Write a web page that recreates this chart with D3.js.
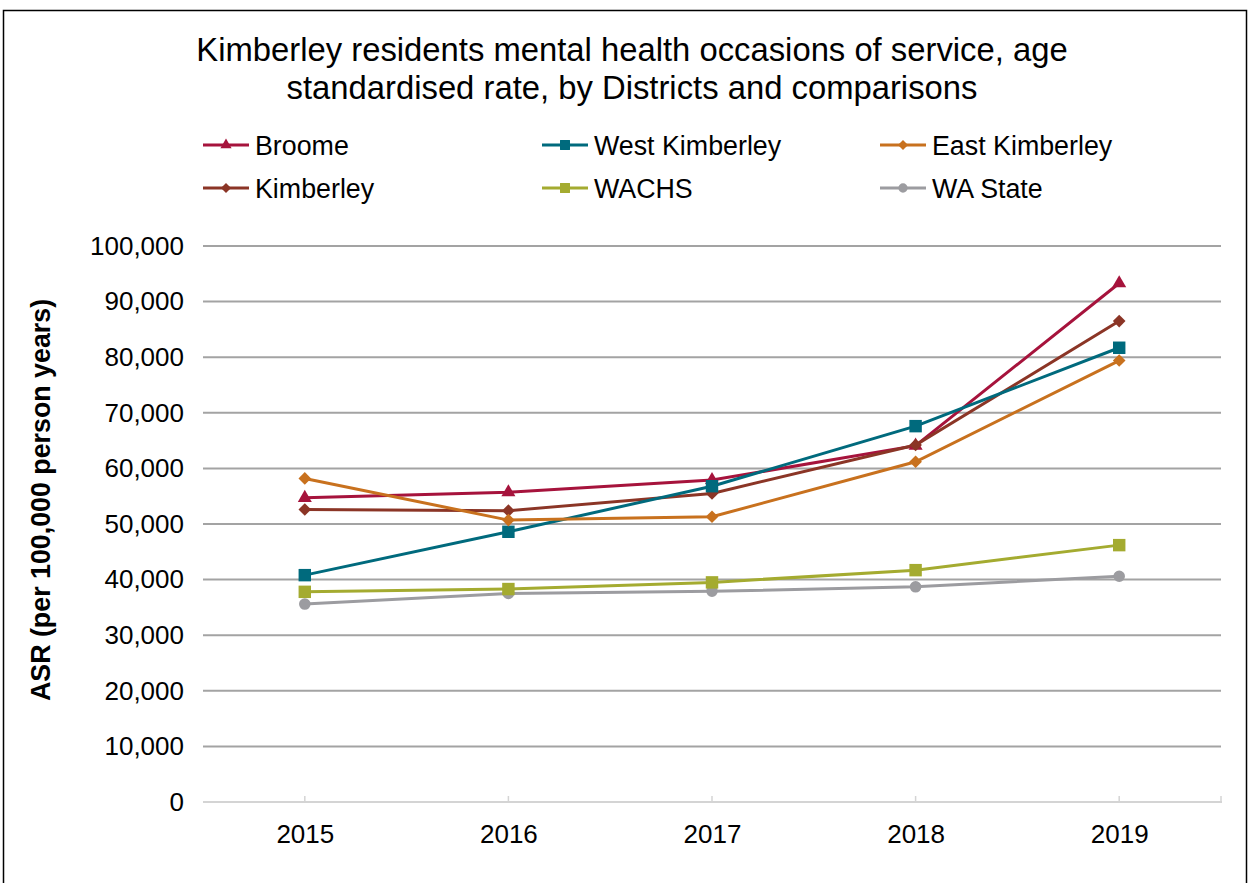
<!DOCTYPE html>
<html><head><meta charset="utf-8">
<script src="https://cdn.jsdelivr.net/npm/d3@7"></script>
<style>body{margin:0;background:#fff;} svg{display:block;font-family:"Liberation Sans",Arial,sans-serif;}</style>
</head><body>
<svg id="c" width="1250" height="883"></svg>
<script>
const years = ["2015","2016","2017","2018","2019"];
const seriesNames = ["Broome","West Kimberley","East Kimberley","Kimberley","WACHS","WA State"];
const broome = [54700, 55700, 57900, 64100, 93300];
const westKimberley = [40800, 48600, 56800, 67600, 81700];
const eastKimberley = [58200, 50700, 51300, 61200, 79400];
const kimberley = [52600, 52400, 55500, 64200, 86500];
const wachs = [37800, 38300, 39500, 41700, 46200];
const waState = [35600, 37500, 37900, 38700, 40600];
const yTicks = [0,10000,20000,30000,40000,50000,60000,70000,80000,90000,100000];
const titleLines = ["Kimberley residents mental health occasions of service, age","standardised rate, by Districts and comparisons"];
const yLabel = "ASR (per 100,000 person years)";

const colors = ["#a6133c","#006a7d","#c8711e","#8b3526","#a4ab30","#9c9ca0"];
const shapes = ["triangle","square","diamond","diamond","square","circle"];
const sizes = [85, 155, 80, 80, 155, 105];
const data = [broome, westKimberley, eastKimberley, kimberley, wachs, waState];

function marker(sel, i){
  const t = shapes[i];
  if (t === "diamond") {
    sel.append("path").attr("d", d3.symbol().type(d3.symbolSquare).size(sizes[i])()).attr("transform","rotate(45)").attr("fill",colors[i]);
  } else {
    const typ = t==="triangle"?d3.symbolTriangle:(t==="square"?d3.symbolSquare:d3.symbolCircle);
    sel.append("path").attr("d", d3.symbol().type(typ).size(sizes[i])()).attr("fill",colors[i]);
  }
}

const svg = d3.select("#c");
svg.append("rect").attr("x",3.5).attr("y",10.5).attr("width",1243).attr("height",900)
  .attr("fill","#fff").attr("stroke","#000").attr("stroke-width",1.5);

const x = d3.scalePoint().domain(years).range([203,1221]).padding(0.5);
const y = d3.scaleLinear().domain([0,100000]).range([802,246]);

// title
svg.append("text").attr("x",632).attr("y",61).attr("text-anchor","middle")
  .attr("font-size",32.8).attr("fill","#000")
  .selectAll("tspan").data(titleLines).join("tspan")
  .attr("x",632).attr("dy",(d,i)=>i?38:0).text(d=>d);

// grid
svg.append("g").selectAll("line").data(yTicks.filter(d=>d>0)).join("line")
  .attr("x1",203).attr("x2",1221).attr("y1",d=>y(d)).attr("y2",d=>y(d))
  .attr("stroke","#a3a3a3").attr("stroke-width",2);

// y axis labels
const ya = svg.append("g").attr("transform","translate(203,0)")
  .call(d3.axisLeft(y).tickValues(yTicks).tickSize(0).tickPadding(19).tickFormat(d3.format(",")));
ya.select(".domain").remove();
ya.selectAll("text").attr("font-size",26).attr("fill","#000").attr("font-family","Liberation Sans, Arial, sans-serif");

// x axis
const xa = svg.append("g").attr("transform","translate(0,802)")
  .call(d3.axisBottom(x).tickSize(0).tickPadding(23));
xa.select(".domain").remove();
xa.selectAll("text").attr("font-size",26).attr("fill","#000").attr("font-family","Liberation Sans, Arial, sans-serif");
svg.append("line").attr("x1",203).attr("x2",1222).attr("y1",802).attr("y2",802)
  .attr("stroke","#d4d4d4").attr("stroke-width",2);
svg.append("g").selectAll("line").data(years).join("line")
  .attr("x1",d=>x(d)).attr("x2",d=>x(d)).attr("y1",796).attr("y2",802)
  .attr("stroke","#d4d4d4").attr("stroke-width",1.5);
svg.append("line").attr("x1",1221).attr("x2",1221).attr("y1",796).attr("y2",802)
  .attr("stroke","#d4d4d4").attr("stroke-width",1.5);

// y label
svg.append("text").attr("transform","translate(50,500) rotate(-90)")
  .attr("text-anchor","middle").attr("font-size",26.8).attr("font-weight","bold").text(yLabel);

// lines
const line = d3.line().x((d,i)=>x(years[i])).y(d=>y(d));
const order = [5,4,0,3,1,2];
order.forEach(s=>{
  svg.append("path").datum(data[s]).attr("d",line).attr("fill","none")
    .attr("stroke",colors[s]).attr("stroke-width",3);
});
order.forEach(s=>{
  data[s].forEach((v,i)=>{
    const g = svg.append("g").attr("transform",`translate(${x(years[i])},${y(v)})`);
    marker(g, s);
  });
});

// legend
const legX = [203,542,880];
const legY = [145,188];
seriesNames.forEach((n,i)=>{
  const g = svg.append("g").attr("transform",`translate(${legX[i%3]},${legY[Math.floor(i/3)]})`);
  g.append("line").attr("x1",0).attr("x2",46).attr("y1",0).attr("y2",0).attr("stroke",colors[i]).attr("stroke-width",3);
  const m = g.append("g").attr("transform","translate(23,0) scale(0.8)");
  marker(m, i);
  g.append("text").attr("x",52).attr("y",9.5).attr("font-size",26.8).attr("fill","#000").text(n);
});
</script>
</body></html>
